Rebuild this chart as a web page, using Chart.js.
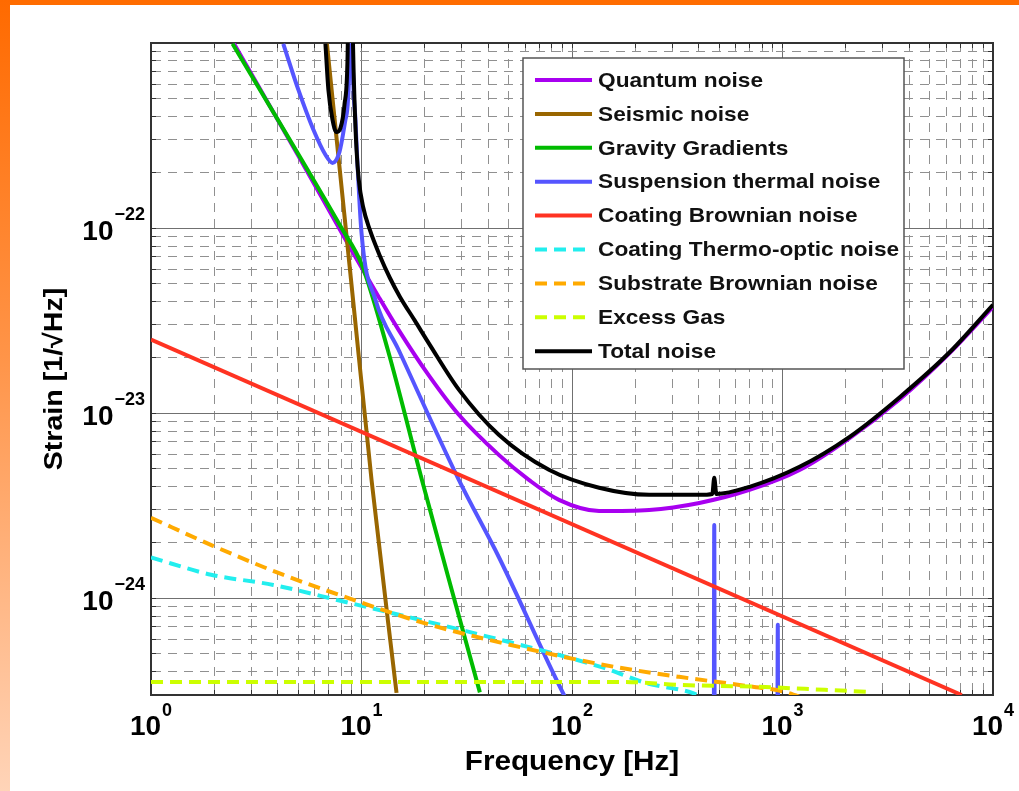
<!DOCTYPE html>
<html>
<head>
<meta charset="utf-8">
<script src="https://cdn.jsdelivr.net/npm/chart.js@4.4.1/dist/chart.umd.min.js"></script>
<style>
  html, body { margin: 0; padding: 0; background: #fff; }
  #wrap { position: relative; width: 1019px; height: 791px; overflow: hidden; background: #fff; }
  #noise { position: absolute; left: 0; top: 0; }
  #topbar { position: absolute; left: 0; top: 0; width: 1019px; height: 5px; background: #ff6c00; }
  #leftbar { position: absolute; left: 0; top: 0; width: 10px; height: 791px;
             background: linear-gradient(to bottom, #ff6a00 0%, #ff9448 45%, #ffd4b8 100%); }
</style>
</head>
<body>
<div id="wrap">
  <canvas id="noise" width="1019" height="791"></canvas>
  <div id="topbar"></div>
  <div id="leftbar"></div>
</div>
<script>
// axis ticks
const xMajorTicks = [1, 10, 100, 1000, 10000];
const xTickExponents = ['0', '1', '2', '3', '4'];
const yMajorTicks = [1e-24, 1e-23, 1e-22];
const yTickExponents = ['\u221224', '\u221223', '\u221222'];

// noise curves (frequency in Hz, strain in 1/sqrt(Hz))
const quantumFreq   = [2.48, 5.01, 8.67, 12.05, 15.0, 20.8, 29.0, 44.9, 62.4, 86.7, 134.5, 232.6, 402.7, 696.6, 1205, 2084, 3606, 6237, 10000];
const quantumStrain = [9.9e-22, 2.46e-22, 8.12e-23, 4.26e-23, 2.82e-23, 1.61e-23, 9.8e-24, 5.95e-24, 4.36e-24, 3.40e-24, 2.96e-24, 3.00e-24, 3.27e-24, 3.85e-24, 4.93e-24, 7.34e-24, 1.19e-23, 2.12e-23, 3.76e-23];

const seismicFreq   = [6.85, 9.12, 11.16, 14.67];
const seismicStrain = [9.9e-22, 4.09e-23, 4.36e-24, 3.08e-25];

const gravityFreq   = [2.44, 8.04, 10.03, 13.33, 19.34, 27.45, 36.5];
const gravityStrain = [9.9e-22, 1.0e-22, 6.34e-23, 2.20e-23, 4.38e-24, 1.01e-24, 3.10e-25];

const suspFreq   = [4.25, 5.01, 5.91, 6.74, 7.28, 7.86, 8.39, 8.77, 8.91, 9.06, 9.36, 10.0, 11.66, 15.0, 29.0, 44.9, 91.6, 470, 474, 478, 940, 950, 960];
const suspStrain = [9.9e-22, 5.6e-22, 3.4e-22, 2.49e-22, 2.25e-22, 2.58e-22, 3.85e-22, 8.13e-22, 1e-20, 1e-21, 3.85e-22, 9.44e-23, 4.09e-23, 2.2e-23, 4.36e-24, 1.67e-24, 3.0e-25, 1e-26, 2.49e-24, 1e-26, 1e-26, 7.18e-25, 1e-26];

const coatBrownFreq   = [1, 7100];
const coatBrownStrain = [2.5e-23, 3.0e-25];

const thermoFreq   = [1, 1.93, 3.81, 8.03, 40.3, 142, 225, 373, 420];
const thermoStrain = [1.66e-24, 1.34e-24, 1.18e-24, 9.66e-25, 6.18e-25, 4.20e-25, 3.48e-25, 3.08e-25, 2.9e-25];

const substrateFreq   = [1, 1.97, 4.03, 9.16, 19.7, 40.3, 142, 323, 624, 1022, 1300];
const substrateStrain = [2.72e-24, 1.92e-24, 1.37e-24, 9.8e-25, 7.36e-25, 5.96e-25, 4.36e-25, 3.76e-25, 3.40e-25, 3.12e-25, 2.85e-25];

const gasFreq   = [1, 173, 323, 779, 1585, 2540];
const gasStrain = [3.53e-25, 3.53e-25, 3.40e-25, 3.32e-25, 3.20e-25, 3.12e-25];

const totalFreq   = [6.74, 6.96, 7.28, 7.60, 7.94, 8.30, 8.58, 8.86, 9.11, 9.26, 9.47, 9.71, 10.18, 10.95, 12.22, 13.63, 15.21, 17.92, 21.11, 29.0, 44.9, 77.7, 134.5, 232.6, 402.7, 464, 474, 485, 697, 1205, 2084, 3606, 6237, 10000];
const totalStrain = [9.9e-22, 5.6e-22, 3.85e-22, 3.3e-22, 3.47e-22, 4.64e-22, 8.13e-22, 1e-20, 1e-21, 4.94e-22, 2.65e-22, 1.82e-22, 1.30e-22, 9.8e-23, 7.09e-23, 5.39e-23, 4.26e-23, 3.16e-23, 2.34e-23, 1.34e-23, 7.64e-24, 4.94e-24, 3.95e-24, 3.62e-24, 3.62e-24, 3.66e-24, 4.47e-24, 3.66e-24, 4.0e-24, 5.13e-24, 7.45e-24, 1.22e-23, 2.14e-23, 3.85e-23];

const X_MIN = 1, X_MAX = 1e4;
const Y_MIN = 3e-25, Y_MAX = 1e-21;
const FONT = '"Liberation Sans", Arial, Helvetica, sans-serif';

function pts(fs, hs) {
    return fs.map((f, i) => ({ x: f, y: hs[i] }));
}

// 1..9 x 10^n inside the axis range, for the matlab style minor grid
function logGrid(min, max) {
    const out = [];
    for (let e = Math.floor(Math.log10(min)); e <= Math.ceil(Math.log10(max)); e++) {
        for (let m = 1; m <= 9; m++) {
            const v = m * Math.pow(10, e);
            if (v > min * 1.0001 && v < max * 0.9999) out.push({ value: v, major: m === 1 });
        }
    }
    return out;
}

function line(label, fs, hs, color, dash, order, smooth) {
    return {
        label: label,
        data: pts(fs, hs),
        borderColor: color,
        backgroundColor: color,
        borderWidth: 4,
        borderDash: dash,
        borderCapStyle: 'butt',
        borderJoinStyle: 'round',
        pointRadius: 0,
        tension: smooth ? 0.4 : 0,
        cubicInterpolationMode: smooth ? 'monotone' : 'default',
        fill: false,
        clip: 0,
        order: order
    };
}

const datasets = [
    line('Quantum noise', quantumFreq, quantumStrain, '#a800f0', [], 8, true),
    line('Seismic noise', seismicFreq, seismicStrain, '#996600', [], 7, true),
    line('Gravity Gradients', gravityFreq, gravityStrain, '#00bb00', [], 6, true),
    line('Suspension thermal noise', suspFreq, suspStrain, '#5555ff', [], 5, true),
    line('Coating Brownian noise', coatBrownFreq, coatBrownStrain, '#ff3322', [], 4, false),
    line('Coating Thermo-optic noise', thermoFreq, thermoStrain, '#22eeee', [12, 7], 3, true),
    line('Substrate Brownian noise', substrateFreq, substrateStrain, '#ffaa00', [12, 7], 2, true),
    line('Excess Gas', gasFreq, gasStrain, '#ccff00', [12, 7], 1, true),
    line('Total noise', totalFreq, totalStrain, '#000000', [], 0, true)
];

const isMajor = c => c.tick && c.tick.major;

function mainAxis(pos, min, max, size) {
    return {
        type: 'logarithmic', position: pos, min: min, max: max,
        afterBuildTicks: s => { s.ticks = logGrid(min, max); },
        afterFit: s => { if (s.isHorizontal()) s.height = size; else s.width = size; },
        ticks: { display: false, autoSkip: false },
        grid: {
            drawOnChartArea: true, drawTicks: true, tickLength: -5, tickWidth: 1, tickColor: '#333',
            color: c => isMajor(c) ? '#707070' : '#909090', lineWidth: 1
        },
        border: { display: true, color: '#333', width: 2, dash: c => isMajor(c) ? [] : [9, 7] }
    };
}

function boxAxis(pos, min, max, size) {
    return {
        type: 'logarithmic', position: pos, min: min, max: max,
        afterBuildTicks: s => { s.ticks = logGrid(min, max); },
        afterFit: s => { if (s.isHorizontal()) s.height = size; else s.width = size; },
        ticks: { display: false, autoSkip: false },
        grid: { drawOnChartArea: false, drawTicks: true, tickLength: -5, tickWidth: 1, tickColor: '#333' },
        border: { display: true, color: '#333', width: 2 }
    };
}

// text a little wider than the font, like the original export
function wideText(ctx, text, x, y, sx) {
    ctx.save();
    ctx.translate(x, y);
    ctx.scale(sx, 1);
    ctx.fillText(text, 0, 0);
    ctx.restore();
}

// tick labels with superscripts, axis titles and the boxed legend
const matlabText = {
    id: 'matlabText',
    afterDraw(chart) {
        const { ctx } = chart;
        const xs = chart.scales.x, ys = chart.scales.y;
        ctx.save();
        ctx.fillStyle = '#000';
        ctx.textBaseline = 'alphabetic';
        ctx.textAlign = 'left';

        xMajorTicks.forEach((v, i) => {
            const px = xs.getPixelForValue(v);
            ctx.font = 'bold 28px ' + FONT;
            const wb = ctx.measureText('10').width;
            ctx.font = 'bold 18px ' + FONT;
            const we = ctx.measureText(xTickExponents[i]).width;
            const left = px - (wb + we + 1) / 2;
            ctx.font = 'bold 28px ' + FONT;
            ctx.fillText('10', left, 735);
            ctx.font = 'bold 18px ' + FONT;
            ctx.fillText(xTickExponents[i], left + wb + 1, 716);
        });

        yMajorTicks.forEach((v, i) => {
            const py = ys.getPixelForValue(v);
            ctx.font = 'bold 18px ' + FONT;
            const we = ctx.measureText(yTickExponents[i]).width;
            ctx.font = 'bold 28px ' + FONT;
            const wb = ctx.measureText('10').width;
            const right = ys.right - 6;
            ctx.fillText('10', right - we - 1 - wb, py + 12);
            ctx.font = 'bold 18px ' + FONT;
            ctx.fillText(yTickExponents[i], right - we, py - 8);
        });

        ctx.font = 'bold 27px ' + FONT;
        ctx.textAlign = 'center';
        wideText(ctx, 'Frequency [Hz]', (xs.left + xs.right) / 2, 770, 1.1);

        ctx.save();
        ctx.translate(55, 379);
        ctx.rotate(-Math.PI / 2);
        ctx.textBaseline = 'middle';
        ctx.font = 'bold 26px ' + FONT;
        wideText(ctx, 'Strain [1/\u221AHz]', 0, 0, 1.1);
        ctx.restore();

        // legend
        const bx = 523, by = 58, bw = 381, bh = 311;
        ctx.fillStyle = '#fff';
        ctx.fillRect(bx, by, bw, bh);
        ctx.strokeStyle = '#555';
        ctx.lineWidth = 1.5;
        ctx.strokeRect(bx, by, bw, bh);
        ctx.textAlign = 'left';
        ctx.textBaseline = 'middle';
        ctx.font = 'bold 21px ' + FONT;
        chart.data.datasets.forEach((ds, i) => {
            const cy = 80 + i * 33.9;
            ctx.save();
            ctx.strokeStyle = ds.borderColor;
            ctx.lineWidth = 4;
            ctx.setLineDash(ds.borderDash || []);
            ctx.beginPath();
            ctx.moveTo(535, cy);
            ctx.lineTo(592, cy);
            ctx.stroke();
            ctx.restore();
            ctx.fillStyle = '#111';
            wideText(ctx, ds.label, 598, cy + 1, 1.08);
        });
        ctx.restore();
    }
};

new Chart(document.getElementById('noise').getContext('2d'), {
    type: 'line',
    data: { datasets: datasets },
    options: {
        responsive: false,
        animation: false,
        devicePixelRatio: 1,
        layout: { padding: 0 },
        plugins: { legend: { display: false }, tooltip: { enabled: false } },
        scales: {
            x: mainAxis('bottom', X_MIN, X_MAX, 96),
            xTop: boxAxis('top', X_MIN, X_MAX, 43),
            y: mainAxis('left', Y_MIN, Y_MAX, 151),
            yRight: boxAxis('right', Y_MIN, Y_MAX, 26)
        }
    },
    plugins: [matlabText]
});
</script>
</body>
</html>
